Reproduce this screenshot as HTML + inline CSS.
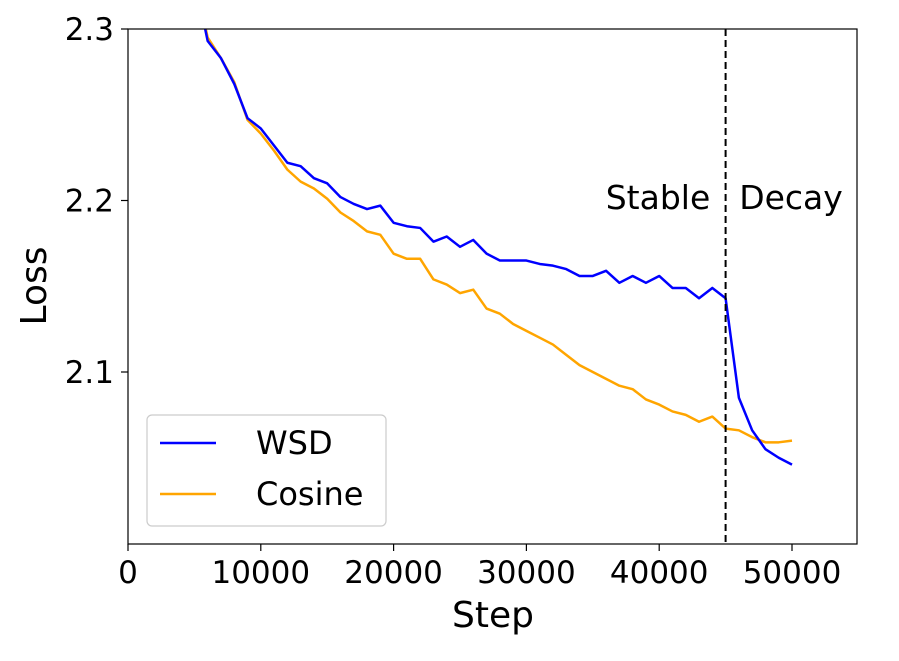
<!DOCTYPE html>
<html><head><meta charset="utf-8"><style>
body{margin:0;background:#fff}
svg{display:block;font-family:"DejaVu Sans","Liberation Sans",sans-serif}
</style></head><body>
<svg id="chart" width="899" height="661">
<defs><clipPath id="clip"><rect x="128" y="29" width="729" height="515"/></clipPath></defs>
<g id="marks" clip-path="url(#clip)"></g>
<rect x="128" y="29" width="729" height="515" fill="none" stroke="#000" stroke-width="1.2"/>
<g id="axes"></g>
<text x="658" y="209" font-size="33" text-anchor="middle">Stable</text>
<text x="791" y="209" font-size="33" text-anchor="middle">Decay</text>
<text x="493" y="627" font-size="36" text-anchor="middle">Step</text>
<text transform="translate(46,286) rotate(-90)" font-size="36" text-anchor="middle">Loss</text>
<g>
<rect x="147" y="415" width="239" height="111" rx="5" fill="#fff" stroke="#ccc" stroke-width="1.2"/>
<line x1="160" y1="443" x2="216" y2="443" stroke="#0000ff" stroke-width="2.5"/>
<text x="256" y="454" font-size="32">WSD</text>
<line x1="160" y1="494" x2="216" y2="494" stroke="#ffa500" stroke-width="2.5"/>
<text x="256" y="505" font-size="32">Cosine</text>
</g>
</svg>
<script>
const steps=[5000,6000,7000,8000,9000,10000,11000,12000,13000,14000,15000,16000,17000,18000,19000,20000,21000,22000,23000,24000,25000,26000,27000,28000,29000,30000,31000,32000,33000,34000,35000,36000,37000,38000,39000,40000,41000,42000,43000,44000,45000,46000,47000,48000,49000,50000];
const wsd=[2.33,2.293,2.283,2.268,2.248,2.242,2.232,2.222,2.220,2.213,2.210,2.202,2.198,2.195,2.197,2.187,2.185,2.184,2.176,2.179,2.173,2.177,2.169,2.165,2.165,2.165,2.163,2.162,2.160,2.156,2.156,2.159,2.152,2.156,2.152,2.156,2.149,2.149,2.143,2.149,2.143,2.085,2.066,2.055,2.050,2.046];
const cosine=[2.33,2.295,2.283,2.269,2.247,2.239,2.229,2.218,2.211,2.207,2.201,2.193,2.188,2.182,2.180,2.169,2.166,2.166,2.154,2.151,2.146,2.148,2.137,2.134,2.128,2.124,2.120,2.116,2.110,2.104,2.100,2.096,2.092,2.090,2.084,2.081,2.077,2.075,2.071,2.074,2.067,2.066,2.062,2.059,2.059,2.060];
const xTicks=[0,10000,20000,30000,40000,50000];
const yTicks=[2.1,2.2,2.3];
const decayStart=45000;
const NS='http://www.w3.org/2000/svg';
const X=v=>128+v*(664/50000);
const Y=v=>29+(2.3-v)*1715;
const marks=document.getElementById('marks'),axes=document.getElementById('axes');
function mk(tag,attrs,parent){const e=document.createElementNS(NS,tag);for(const k in attrs)e.setAttribute(k,attrs[k]);parent.appendChild(e);return e;}
function series(vals,color,name){
 const p=mk('polyline',{points:vals.map((v,i)=>X(steps[i])+','+Y(v)).join(' '),fill:'none',stroke:color,'stroke-width':2.5,'stroke-linejoin':'round'},marks);
 
 
}
series(cosine,'#ffa500','cosine-line');
series(wsd,'#0000ff','wsd-line');
const dl=mk('line',{x1:X(decayStart),x2:X(decayStart),y1:29,y2:544,stroke:'#000','stroke-width':2,'stroke-dasharray':'7,4'},marks);


xTicks.forEach(t=>{
 mk('line',{x1:X(t),x2:X(t),y1:544,y2:551,stroke:'#000','stroke-width':1.2},axes);
 const tx=mk('text',{x:X(t),y:583,'font-size':31,'text-anchor':'middle'},axes);tx.textContent=t;
 
 
});
yTicks.forEach(t=>{
 mk('line',{x1:121,x2:128,y1:Y(t),y2:Y(t),stroke:'#000','stroke-width':1.2},axes);
 const tx=mk('text',{x:114,y:Y(t)+11,'font-size':31,'text-anchor':'end'},axes);tx.textContent=t.toFixed(1);
 
 
});
</script>
</body></html>
